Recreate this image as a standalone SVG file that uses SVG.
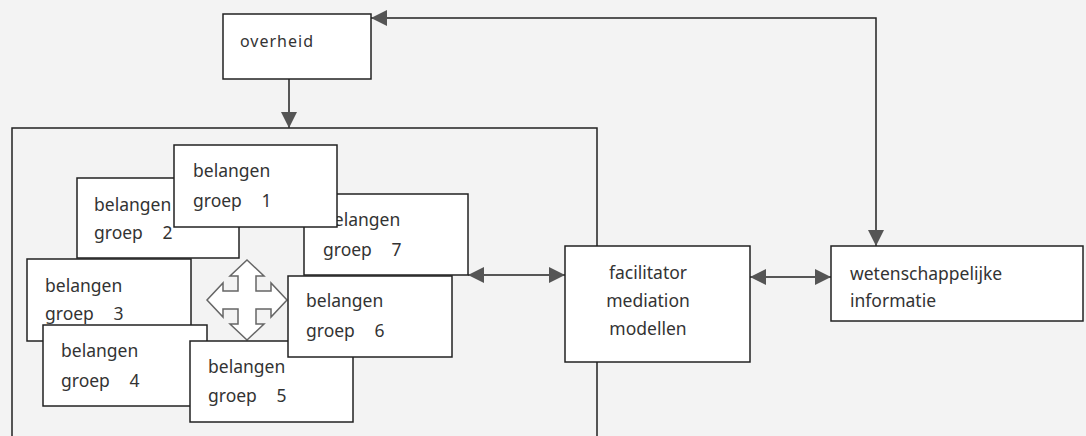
<svg xmlns="http://www.w3.org/2000/svg" width="1086" height="436" viewBox="0 0 1086 436">
<style>
.box{fill:#fff;stroke:#222;stroke-width:1.5}
.t{font-family:"Noto Sans","Open Sans",sans-serif;font-size:17.5px;fill:#333}
.g{word-spacing:15px}
.c{fill:none;stroke:#222;stroke-width:1.5}
</style>
<defs>
<marker id="ah" viewBox="0 0 16 16" markerWidth="16" markerHeight="16" refX="16" refY="8" orient="auto-start-reverse" markerUnits="userSpaceOnUse">
<path d="M0,0 L16,8 L0,16 Z" fill="#555"/>
</marker>
</defs>
<rect width="1086" height="436" fill="#f3f3f3"/>
<g id="container">
<path class="c" d="M12,436 V128 H597 V436"/>
</g>
<g id="connectors">
<path class="c" d="M289,47 V128" marker-end="url(#ah)"/>
<path class="c" d="M371,18 H876 V246" marker-start="url(#ah)" marker-end="url(#ah)"/>
<path class="c" d="M468,275 H565" marker-start="url(#ah)" marker-end="url(#ah)"/>
<path class="c" d="M750,277 H831" marker-start="url(#ah)" marker-end="url(#ah)"/>
</g>
<g id="overheid">
<rect class="box" x="223" y="14" width="148" height="65"/>
<text class="t" x="240" y="47" style="font-size:16px;letter-spacing:1px">overheid</text>
</g>
<g id="groep2">
<rect class="box" x="77" y="178" width="162" height="80"/>
<text class="t" x="94" y="211">belangen</text>
<text class="t g" x="94" y="239">groep 2</text>
</g>
<g id="groep7">
<rect class="box" x="304" y="194" width="164" height="81"/>
<text class="t" x="323" y="226">belangen</text>
<text class="t g" x="323" y="256">groep 7</text>
</g>
<g id="groep1">
<rect class="box" x="174" y="145" width="163" height="82"/>
<text class="t" x="193" y="177">belangen</text>
<text class="t g" x="193" y="207">groep 1</text>
</g>
<g id="groep3">
<rect class="box" x="27" y="259" width="164" height="82"/>
<text class="t" x="45" y="292">belangen</text>
<text class="t g" x="45" y="320">groep 3</text>
</g>
<g id="groep4">
<rect class="box" x="43" y="325" width="164" height="81"/>
<text class="t" x="61" y="357">belangen</text>
<text class="t g" x="61" y="387">groep 4</text>
</g>
<g id="cross">
<path d="M247,260 L264,276 L256,276 L256,291 L271,291 L271,283 L287,300 L271,317 L271,309 L256,309 L256,324 L264,324 L247,340 L230,324 L238,324 L238,309 L223,309 L223,317 L207,300 L223,283 L223,291 L238,291 L238,276 L230,276 Z" fill="#fff" stroke="#666" stroke-width="1.5" stroke-linejoin="miter"/>
</g>
<g id="groep5">
<rect class="box" x="190" y="341" width="163" height="81"/>
<text class="t" x="208" y="373">belangen</text>
<text class="t g" x="208" y="402">groep 5</text>
</g>
<g id="groep6">
<rect class="box" x="288" y="276" width="164" height="81"/>
<text class="t" x="306" y="307">belangen</text>
<text class="t g" x="306" y="337">groep 6</text>
</g>
<g id="facilitator">
<rect class="box" x="565" y="246" width="185" height="116"/>
<text class="t" x="648" y="279" text-anchor="middle">facilitator</text>
<text class="t" x="648" y="307" text-anchor="middle">mediation</text>
<text class="t" x="648" y="335" text-anchor="middle">modellen</text>
</g>
<g id="wetenschappelijke">
<rect class="box" x="831" y="246" width="252" height="75"/>
<text class="t" x="850" y="280">wetenschappelijke</text>
<text class="t" x="850" y="307">informatie</text>
</g>
</svg>
